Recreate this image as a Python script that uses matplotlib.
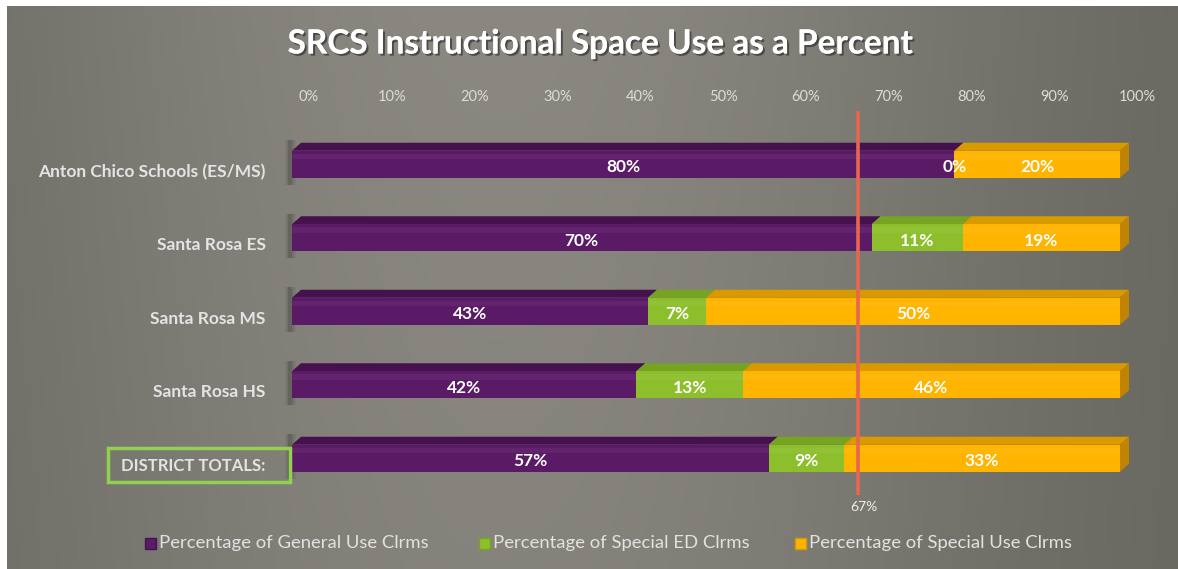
import matplotlib.pyplot as plt
import matplotlib.patheffects as pe
from matplotlib.patches import Polygon, Rectangle
from matplotlib.transforms import ScaledTranslation
import numpy as np

# data
schools = ['Anton Chico Schools (ES/MS)', 'Santa Rosa ES', 'Santa Rosa MS',
           'Santa Rosa HS', 'DISTRICT TOTALS:']
general_use = [80, 70, 43, 42, 57]
special_ed = [0, 11, 7, 13, 9]
special_use = [20, 19, 50, 46, 33]
series_names = ['Percentage of General Use Clrms', 'Percentage of Special ED Clrms',
                'Percentage of Special Use Clrms']
target = 67
ticks = list(range(0, 101, 10))

plt.rcParams['font.family'] = ['Lato', 'DejaVu Sans']

W, H = 1178, 569
fig = plt.figure(figsize=(W / 100, H / 100), dpi=100, facecolor='white')

# gray gradient panel
bg = fig.add_axes([7 / W, 0, 1 - 7 / W, 1 - 6 / H])
bg.axis('off')
gx = np.linspace(0, 1, 400)
gy = np.linspace(0, 1, 100)
fx = np.exp(-((gx - 0.42) / 0.5) ** 2)
fy = 1 - 0.12 * gy
edge = np.array([96, 96, 88]) / 255
mid = np.array([138, 136, 128]) / 255
img = edge[None, None, :] + (mid - edge)[None, None, :] * (fx[None, :, None] * fy[:, None, None])
bg.imshow(img, aspect='auto', extent=[0, 1, 0, 1])
bg.set_xlim(0, 1)
bg.set_ylim(0, 1)

# main axes: 0% at x=292px, 100% at 1120px
row_top, row_bot = 127.5, 495.0
ax = fig.add_axes([292 / W, 1 - row_bot / H, 828 / W, (row_bot - row_top) / H])
ax.patch.set_alpha(0)
ax.set_xlim(0, 100)
ax.set_ylim(4.5, -0.5)
for s in ax.spines.values():
    s.set_visible(False)

colors = ['#5a1a66', '#8cbf2b', '#ffb400']
top_colors = ['#45124f', '#76a322', '#d99a00']
end_color = '#c08400'
bar_h = 27 / 73.5
dx = 9 / 828 * 100
dy = 8 / 73.5

y = np.arange(len(schools))
vals = np.array([general_use, special_ed, special_use], dtype=float)
totals = vals.sum(axis=0)
shares = vals / totals * 100

# soft back wall shadow at 0
for i in y:
    for w, a in [(1.4, 0.08), (0.9, 0.12), (0.5, 0.18)]:
        ax.add_patch(Rectangle((-w / 2 - 0.2, i - bar_h / 2 - dy * 1.3), w, bar_h + dy * 2.2,
                               facecolor='#2e2e2a', alpha=a, edgecolor='none',
                               clip_on=False, zorder=1))

left = np.zeros(len(schools))
for k in range(3):
    ax.barh(y, shares[k], left=left, height=bar_h, color=colors[k],
            edgecolor='none', zorder=3)
    for i in y:
        x0, x1 = left[i], left[i] + shares[k][i]
        yt = i - bar_h / 2
        if x1 > x0:
            ax.add_patch(Polygon([(x0, yt), (x1, yt), (x1 + dx, yt - dy), (x0 + dx, yt - dy)],
                                 closed=True, facecolor=top_colors[k], edgecolor='none',
                                 zorder=2.5, clip_on=False))
            # light band on front
            ax.add_patch(Rectangle((x0, yt + bar_h * 0.12), x1 - x0, bar_h * 0.2,
                                   facecolor='white', alpha=0.05, edgecolor='none', zorder=3.2))
        if k == 2:
            yb = i + bar_h / 2
            ax.add_patch(Polygon([(x1, yb), (x1, yt), (x1 + dx, yt - dy), (x1 + dx, yb - dy)],
                                 closed=True, facecolor=end_color, edgecolor='none',
                                 zorder=2.6, clip_on=False))
        ax.text((x0 + x1) / 2, i + 0.04, f'{int(vals[k][i])}%', ha='center', va='center',
                color='white', fontsize=12.5, fontweight='bold', zorder=6)
    left = left + shares[k]

# target line
line_off = ScaledTranslation(11 / 100, 0, fig.dpi_scale_trans)
ax.plot([target, target], [-0.72, 4.5], color='#e8654f', lw=2.6, zorder=5,
        transform=ax.transData + line_off, clip_on=False, solid_capstyle='butt')
ax.text(target, 4.5, f'{target}%', ha='center', va='top', color='#eeeeee', fontsize=10,
        transform=ax.transData + ScaledTranslation(17 / 100, -6 / 100, fig.dpi_scale_trans))

# axis ticks
ax.xaxis.tick_top()
ax.set_xticks(ticks)
ax.set_xticklabels([f'{t}%' for t in ticks])
ax.tick_params(axis='x', length=0, pad=17, colors='#dcdcdc', labelsize=10.5)
for lab in ax.get_xticklabels():
    lab.set_transform(lab.get_transform() + ScaledTranslation(17 / 100, 0, fig.dpi_scale_trans))

ax.set_yticks(y)
ax.set_yticklabels(schools)
ax.tick_params(axis='y', length=0, pad=19, colors='#e4e4e4', labelsize=12.5)
for lab in ax.get_yticklabels():
    lab.set_fontweight('bold')
    lab.set_transform(lab.get_transform() + ScaledTranslation(0, -6 / 100, fig.dpi_scale_trans))
ax.get_yticklabels()[-1].set_fontsize(12)

# green box around district totals
fig.patches.append(Rectangle((108 / W, 1 - 482 / H), 182 / W, 34 / H, transform=fig.transFigure,
                             facecolor='none', edgecolor='#92d050', lw=2.5, zorder=10))

# title
fig.text(0.51, 1 - 44 / H, 'SRCS Instructional Space Use as a Percent', ha='center', va='center',
         color='white', fontsize=24, fontweight='bold',
         path_effects=[pe.withSimplePatchShadow(offset=(1.5, -1.5), shadow_rgbFace='#333333', alpha=0.7),
                       pe.Normal()])

# legend
leg_x = [145, 479, 795]
for k in range(3):
    fig.patches.append(Rectangle((leg_x[k] / W, 1 - 549 / H), 11 / W, 11 / H, transform=fig.transFigure,
                                 facecolor=colors[k], edgecolor=top_colors[k], lw=1))
    fig.text((leg_x[k] + 14) / W, 1 - 543 / H, series_names[k], ha='left', va='center',
             color='#e2e2e2', fontsize=13.3)

fig.savefig('out.png', dpi=100, facecolor='white')
